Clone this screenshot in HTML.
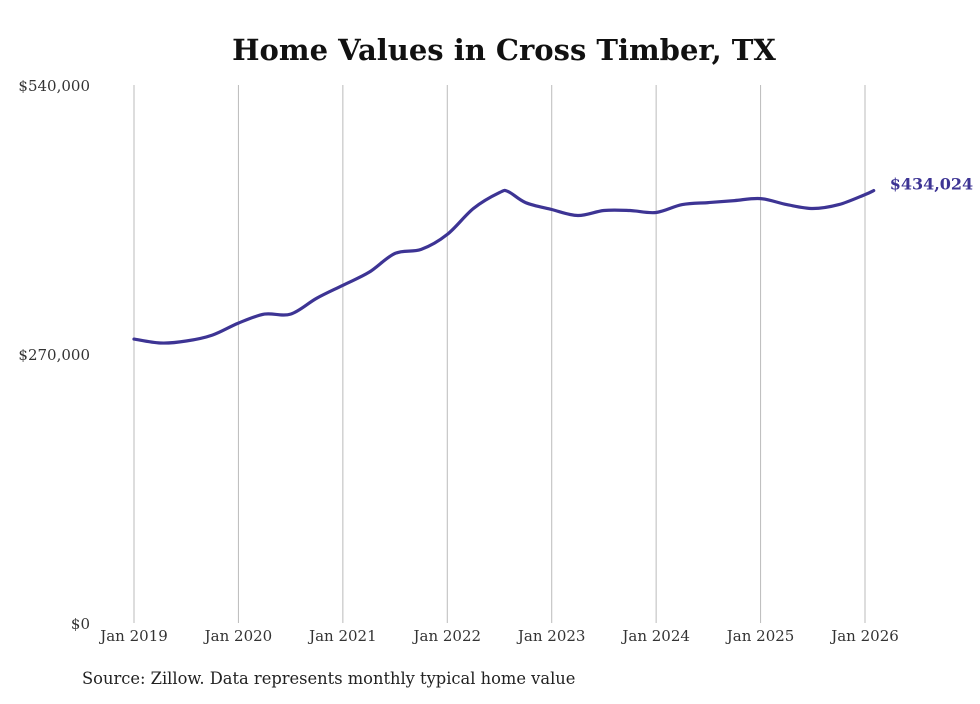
<!DOCTYPE html>
<html><head><meta charset="utf-8"><style>
body{margin:0;background:#fff;}
svg text{font-family:"DejaVu Serif","Liberation Serif",serif;}
</style></head><body>
<svg width="980" height="699" viewBox="0 0 980 699" id="chart">
<text x="504" y="60" text-anchor="middle" font-size="29" font-weight="bold" fill="#111">Home Values in Cross Timber, TX</text>
<g id="grid"></g><g id="yt"></g><g id="xt"></g><g id="series"></g>
<text x="82" y="684" font-size="16.3" fill="#222">Source: Zillow. Data represents monthly typical home value</text>
</svg>
<script>
const monthIdx=[0,3,6,9,12,15,18,21,24,27,30,33,36,39,42,43,45,48,51,54,57,60,63,66,69,72,75,78,81,84,85];
const values=[285000,281000,283000,289000,301000,310000,310000,326000,339000,352000,371000,375000,390000,416000,432000,433000,422000,415000,409000,414000,414000,412000,420000,422000,424000,426000,420000,416000,420000,430000,434024];
const yTicks=[0,270000,540000];
const yLabels=["$0","$270,000","$540,000"];
const xYears=["Jan 2019","Jan 2020","Jan 2021","Jan 2022","Jan 2023","Jan 2024","Jan 2025","Jan 2026"];
const lastLabel="$434,024";
const NS="http://www.w3.org/2000/svg";
const X=m=>134+m*(865-134)/84;
const Y=v=>623-v*(538/540000);
function mk(t,a,p){const e=document.createElementNS(NS,t);for(const k in a)e.setAttribute(k,a[k]);p.appendChild(e);return e;}
const grid=document.getElementById('grid'),yt=document.getElementById('yt'),xt=document.getElementById('xt'),ser=document.getElementById('series');
xYears.forEach((l,i)=>{
 const x=X(i*12);
 const ln=mk('line',{x1:x,x2:x,y1:85,y2:623,stroke:'#bbb','stroke-width':1},grid);
 
 
 const t=mk('text',{x:x,y:641,'text-anchor':'middle','font-size':15,fill:'#333'},xt);t.textContent=l;
 
 
});
yTicks.forEach((v,i)=>{
 const t=mk('text',{x:90,y:Y(v)+6,'text-anchor':'end','font-size':15,fill:'#333'},yt);t.textContent=yLabels[i];
 
 
});
const pts=values.map((v,i)=>[X(monthIdx[i]),Y(v)]);
let d='M'+pts[0][0].toFixed(1)+','+pts[0][1].toFixed(1);
for(let i=0;i<pts.length-1;i++){
 const p0=pts[Math.max(0,i-1)],p1=pts[i],p2=pts[i+1],p3=pts[Math.min(pts.length-1,i+2)];
 const c1=[p1[0]+(p2[0]-p0[0])/6,p1[1]+(p2[1]-p0[1])/6],c2=[p2[0]-(p3[0]-p1[0])/6,p2[1]-(p3[1]-p1[1])/6];
 d+=' C'+c1.map(n=>n.toFixed(1)).join(',')+' '+c2.map(n=>n.toFixed(1)).join(',')+' '+p2.map(n=>n.toFixed(1)).join(',');
}
const p=mk('path',{d:d,fill:'none',stroke:'#3d3494','stroke-width':3.2,'stroke-linejoin':'round','stroke-linecap':'round'},ser);


const n=values.length-1;
const lt=mk('text',{x:X(monthIdx[n])+16,y:Y(values[n])-1,'font-size':16,'font-weight':'bold',fill:'#3d3494'},ser);lt.textContent=lastLabel;


</script>
</body></html>
